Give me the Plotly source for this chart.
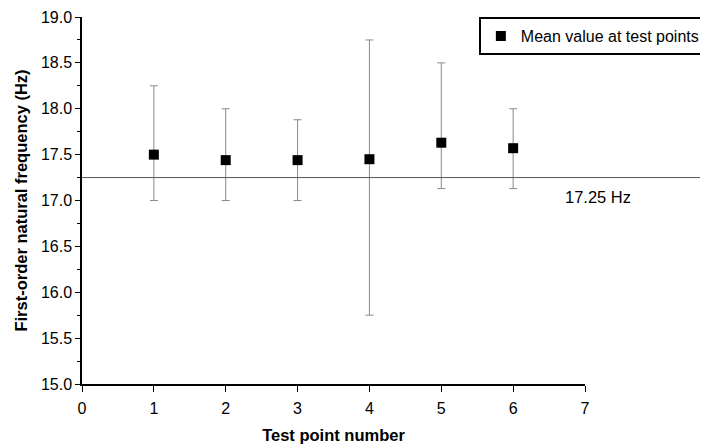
import plotly.graph_objects as go

test_points = [1, 2, 3, 4, 5, 6]
mean_values = [17.50, 17.44, 17.44, 17.45, 17.63, 17.57]
upper_values = [18.25, 18.00, 17.88, 18.75, 18.50, 18.00]
lower_values = [17.00, 17.00, 17.00, 15.75, 17.13, 17.13]
reference_value = 17.25
x_ticks = [0, 1, 2, 3, 4, 5, 6, 7]
y_ticks = [15.0, 15.5, 16.0, 16.5, 17.0, 17.5, 18.0, 18.5, 19.0]

err_plus = [u - m for u, m in zip(upper_values, mean_values)]
err_minus = [m - l for m, l in zip(mean_values, lower_values)]

font_family = "Liberation Sans, Arial, sans-serif"

fig = go.Figure()
fig.add_trace(go.Scatter(
    x=test_points, y=mean_values, mode="markers",
    name="Mean value at test points",
    marker=dict(symbol="square", size=10, color="black"),
    error_y=dict(type="data", symmetric=False, array=err_plus, arrayminus=err_minus,
                 color="#8a8a8a", thickness=1, width=4),
))

fig.add_shape(type="line", xref="paper", yref="y", x0=0, x1=1.23,
              y0=reference_value, y1=reference_value,
              line=dict(color="#555555", width=1))
fig.add_annotation(x=1.026, y=reference_value, xref="paper", yref="y",
                   text=f"{reference_value} Hz", showarrow=False,
                   xanchor="center", yanchor="middle", yshift=-19,
                   font=dict(family=font_family, size=16.5, color="black"))

fig.update_layout(
    width=700, height=436,
    margin=dict(l=74, r=123, t=9, b=60, autoexpand=False),
    plot_bgcolor="white", paper_bgcolor="white",
    font=dict(family=font_family, size=16, color="black"),
    showlegend=True,
    legend=dict(x=0.789, y=1.0, xanchor="left", yanchor="top",
                bordercolor="black", borderwidth=2, bgcolor="white",
                font=dict(size=16), itemwidth=30, tracegroupgap=0),
    xaxis=dict(range=[0, 7], tickvals=x_ticks, showline=True, linecolor="black",
               linewidth=1.5, ticks="outside", ticklen=6, tickcolor="black",
               showgrid=False, zeroline=False, automargin=False,
               ticklabeloverflow="allow", ticklabelstandoff=3,
               title=dict(text="<b>Test point number</b>", font=dict(size=16.5), standoff=13)),
    yaxis=dict(range=[15, 19], tickvals=y_ticks, tickformat=".1f", showline=True,
               linecolor="black", linewidth=1.5, ticks="outside", ticklen=5,
               tickcolor="black", showgrid=False, zeroline=False, automargin=False,
               ticklabeloverflow="allow",
               minor=dict(dtick=0.25, ticks="outside", ticklen=3, tickcolor="black"),
               title=dict(text="<b>First-order natural frequency (Hz)</b>", font=dict(size=16.5), standoff=9)),
)

fig.write_html("out.html")
